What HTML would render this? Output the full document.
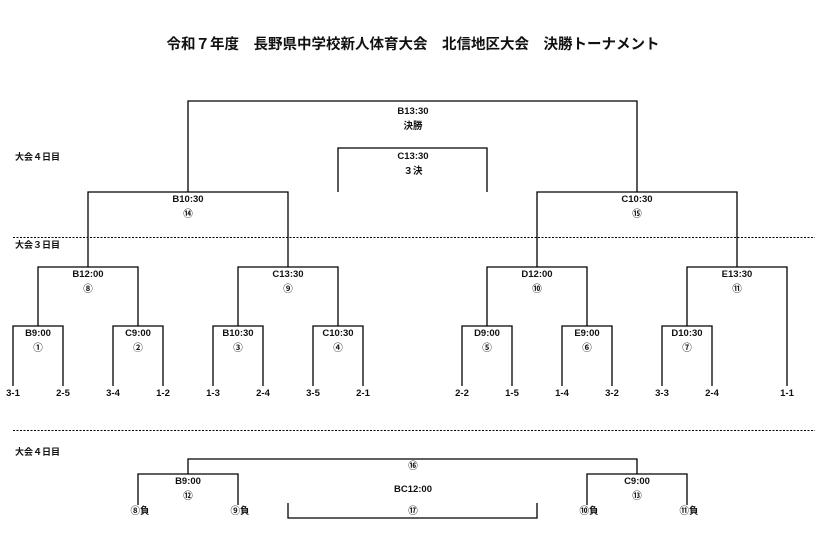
<!DOCTYPE html>
<html><head><meta charset="utf-8"><style>
body{margin:0;background:#fff}
svg text{font-family:"Liberation Sans","Noto Sans CJK JP",sans-serif;font-weight:bold;fill:#111}
</style></head><body>
<svg width="815" height="545" xmlns="http://www.w3.org/2000/svg">
<g font-size="10" text-anchor="middle">
<text x="413" y="49" font-size="14.5">令和７年度　長野県中学校新人体育大会　北信地区大会　決勝トーナメント</text>
</g>
<g stroke="#000" stroke-width="1.3" fill="none">
<polyline points="188,192 188,101 637,101 637,192"/>
<polyline points="338,192 338,148 487,148 487,192"/>
<polyline points="88,267 88,192 288,192 288,267"/>
<polyline points="537,267 537,192 737,192 737,267"/>
<polyline points="38,326 38,267 138,267 138,326"/>
<polyline points="238,326 238,267 338,267 338,326"/>
<polyline points="487,326 487,267 587,267 587,326"/>
<polyline points="687,326 687,267 787,267 787,386"/>
<polyline points="13,386 13,326 63,326 63,386"/>
<polyline points="113,386 113,326 163,326 163,386"/>
<polyline points="213,386 213,326 263,326 263,386"/>
<polyline points="313,386 313,326 363,326 363,386"/>
<polyline points="462,386 462,326 512,326 512,386"/>
<polyline points="562,386 562,326 612,326 612,386"/>
<polyline points="662,386 662,326 712,326 712,386"/>
<polyline points="188,474 188,459 637,459 637,474"/>
<polyline points="138,505 138,474 238,474 238,505"/>
<polyline points="587,505 587,474 687,474 687,505"/>
<polyline points="288,503 288,518 537,518 537,503"/>
</g>
<g stroke="#000" stroke-width="1" stroke-dasharray="2,1.5">
<line x1="13" y1="237.5" x2="815" y2="237.5"/>
<line x1="13" y1="430.5" x2="815" y2="430.5"/>
</g>
<g font-size="9">
<text x="15" y="160">大会４日目</text>
<text x="15" y="248">大会３日目</text>
<text x="15" y="455">大会４日目</text>
</g>
<g font-size="9.5" text-anchor="middle">
<text x="413" y="114">B13:30</text><text x="413" y="129">決勝</text>
<text x="413" y="159">C13:30</text><text x="413" y="174">３決</text>
<text x="188" y="202">B10:30</text><text x="188" y="217" fill="#555">⑭</text>
<text x="637" y="202">C10:30</text><text x="637" y="217" fill="#555">⑮</text>
<text x="88" y="277">B12:00</text><text x="88" y="292" fill="#555">⑧</text>
<text x="288" y="277">C13:30</text><text x="288" y="292" fill="#555">⑨</text>
<text x="537" y="277">D12:00</text><text x="537" y="292" fill="#555">⑩</text>
<text x="737" y="277">E13:30</text><text x="737" y="292" fill="#555">⑪</text>
<text x="38" y="336">B9:00</text><text x="38" y="351" fill="#555">①</text>
<text x="138" y="336">C9:00</text><text x="138" y="351" fill="#555">②</text>
<text x="238" y="336">B10:30</text><text x="238" y="351" fill="#555">③</text>
<text x="338" y="336">C10:30</text><text x="338" y="351" fill="#555">④</text>
<text x="487" y="336">D9:00</text><text x="487" y="351" fill="#555">⑤</text>
<text x="587" y="336">E9:00</text><text x="587" y="351" fill="#555">⑥</text>
<text x="687" y="336">D10:30</text><text x="687" y="351" fill="#555">⑦</text>
<text x="13" y="396">3-1</text><text x="63" y="396">2-5</text>
<text x="113" y="396">3-4</text><text x="163" y="396">1-2</text>
<text x="213" y="396">1-3</text><text x="263" y="396">2-4</text>
<text x="313" y="396">3-5</text><text x="363" y="396">2-1</text>
<text x="462" y="396">2-2</text><text x="512" y="396">1-5</text>
<text x="562" y="396">1-4</text><text x="612" y="396">3-2</text>
<text x="662" y="396">3-3</text><text x="712" y="396">2-4</text>
<text x="787" y="396">1-1</text>
<text x="413" y="469" fill="#555">⑯</text>
<text x="188" y="484">B9:00</text><text x="188" y="499" fill="#555">⑫</text>
<text x="637" y="484">C9:00</text><text x="637" y="499" fill="#555">⑬</text>
<text x="413" y="492">BC12:00</text>
<text x="413" y="514" fill="#555">⑰</text>
<text x="140" y="514">⑧負</text><text x="240" y="514">⑨負</text>
<text x="589" y="514">⑩負</text><text x="689" y="514">⑪負</text>
</g>
</svg>
</body></html>
